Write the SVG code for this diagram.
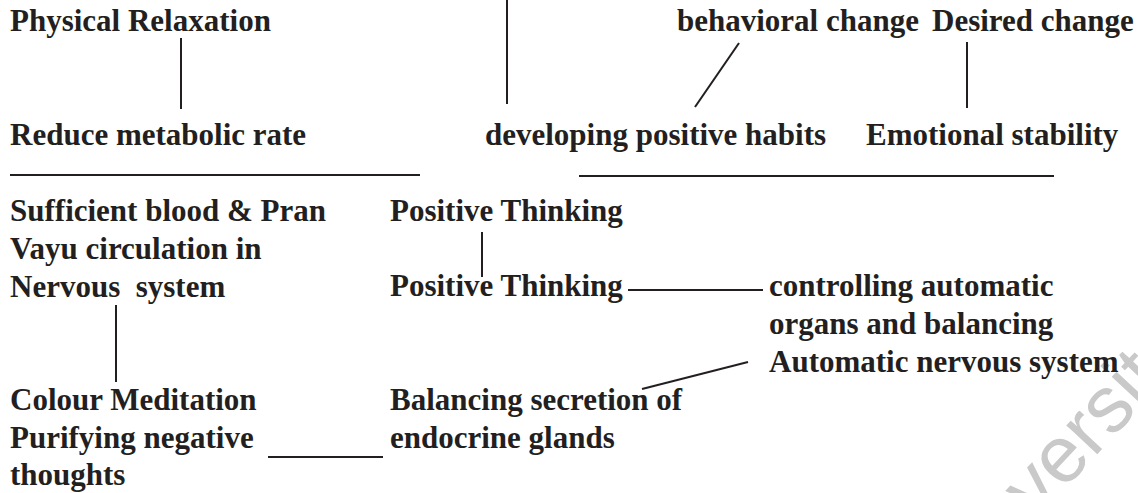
<svg xmlns="http://www.w3.org/2000/svg" width="1138" height="493" viewBox="0 0 1138 493">
  <style>
    .t { font-family: "Liberation Serif", "Times New Roman", serif; font-weight: bold; font-size: 31px; fill: #231f20; }
    .c line { stroke: #231f20; stroke-width: 2; fill: none; }
    .wm { font-family: "Liberation Sans", Arial, sans-serif; font-size: 80px; fill: #c9c9c9; }
  </style>
  <rect width="1138" height="493" fill="#ffffff"/>

  <!-- faint background watermark -->
  <text class="wm" transform="translate(1036 520) rotate(-47)">versit</text>

  <!-- connectors -->
  <g id="connectors" class="c">
    <line x1="181" y1="38" x2="181" y2="109"/>
    <line x1="507" y1="0" x2="507" y2="104"/>
    <line x1="739" y1="43" x2="695" y2="107"/>
    <line x1="967" y1="42" x2="967" y2="108"/>
    <line x1="10" y1="175" x2="420" y2="175"/>
    <line x1="579" y1="176" x2="1054" y2="176"/>
    <line x1="116" y1="305" x2="116" y2="382"/>
    <line x1="482" y1="232" x2="482" y2="277"/>
    <line x1="628" y1="290" x2="763" y2="290"/>
    <line x1="748" y1="362" x2="642" y2="389"/>
    <line x1="268" y1="457" x2="383" y2="457"/>
  </g>

  <!-- upper nodes -->
  <g id="physical-relaxation"><text class="t" x="10" y="31">Physical Relaxation</text></g>
  <g id="behavioral-change"><text class="t" x="677" y="31">behavioral change</text></g>
  <g id="desired-change"><text class="t" x="932" y="31">Desired change</text></g>
  <g id="reduce-metabolic-rate"><text class="t" x="10" y="145">Reduce metabolic rate</text></g>
  <g id="positive-habits"><text class="t" x="485" y="145">developing positive habits</text></g>
  <g id="emotional-stability"><text class="t" x="866" y="145">Emotional stability</text></g>

  <!-- lower nodes -->
  <g id="blood-circulation">
    <text class="t" x="10" y="221">Sufficient blood &amp; Pran</text>
    <text class="t" x="10" y="259">Vayu circulation in</text>
    <text class="t" x="10" y="297" xml:space="preserve">Nervous  system</text>
  </g>
  <g id="positive-thinking-1"><text class="t" x="390" y="221">Positive Thinking</text></g>
  <g id="positive-thinking-2"><text class="t" x="390" y="296">Positive Thinking</text></g>
  <g id="automatic-organs">
    <text class="t" x="769" y="296">controlling automatic</text>
    <text class="t" x="769" y="334">organs and balancing</text>
    <text class="t" x="769" y="372">Automatic nervous system</text>
  </g>
  <g id="colour-meditation">
    <text class="t" x="10" y="410">Colour Meditation</text>
    <text class="t" x="10" y="448">Purifying negative</text>
    <text class="t" x="10" y="485">thoughts</text>
  </g>
  <g id="endocrine-balance">
    <text class="t" x="390" y="410">Balancing secretion of</text>
    <text class="t" x="390" y="448">endocrine glands</text>
  </g>
</svg>
